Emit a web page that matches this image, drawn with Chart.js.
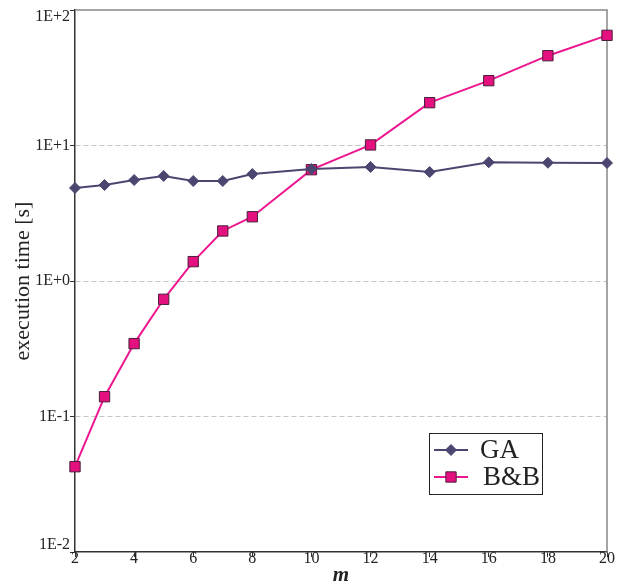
<!DOCTYPE html>
<html lang="en">
<head>
    <meta charset="UTF-8">
    <title>Execution time vs m</title>
    <script src="https://cdn.jsdelivr.net/npm/chart.js@4"></script>
    <style>
        body { margin: 0; background: #fff; }
        canvas { display: block; }
    </style>
</head>
<body>
    <canvas id="timeChart" width="619" height="586"></canvas>
    <script>
        // values
        const mValues = [2, 3, 4, 5, 6, 7, 8, 10, 12, 14, 16, 18, 20];
        const gaTimes = [4.86, 5.11, 5.56, 5.96, 5.47, 5.47, 6.16, 6.71, 6.94, 6.37, 7.52, 7.46, 7.43];
        const bbTimes = [0.0426, 0.140, 0.345, 0.733, 1.39, 2.34, 2.98, 6.63, 10.1, 20.7, 30.1, 46.0, 65.0];
        const yTickValues = [0.01, 0.1, 1, 10, 100];
        const xTickValues = [2, 4, 6, 8, 10, 12, 14, 16, 18, 20];

        const serif = 'Liberation Serif';
        const textColor = '#222';

        function toPoints(ys) {
            return mValues.map((m, i) => ({ x: m, y: ys[i] }));
        }

        function expLabel(v) {
            const e = Math.round(Math.log10(v));
            const txt = '1E' + (e < 0 ? '-' : '+') + Math.abs(e);
            // edge labels sit inside the plot, like the original
            if (v === yTickValues[yTickValues.length - 1]) return [' ', txt];
            if (v === yTickValues[0]) return [txt, ' '];
            return txt;
        }

        function marker(ctx, style, r, x, y) {
            ctx.beginPath();
            if (style === 'rectRot') {
                ctx.moveTo(x - r, y);
                ctx.lineTo(x, y - r);
                ctx.lineTo(x + r, y);
                ctx.lineTo(x, y + r);
                ctx.closePath();
            } else {
                const s = Math.SQRT1_2 * r;
                ctx.rect(x - s, y - s, 2 * s, 2 * s);
            }
            ctx.fill();
            ctx.stroke();
        }

        // box legend inside the plot, lower right
        const boxLegend = {
            id: 'boxLegend',
            afterDraw(chart) {
                const ctx = chart.ctx;
                const area = chart.chartArea;
                const bx = area.right - 178, by = area.bottom - 119;
                const bw = 113, bh = 61;
                ctx.save();
                ctx.fillStyle = '#fff';
                ctx.fillRect(bx, by, bw, bh);
                ctx.strokeStyle = '#222';
                ctx.lineWidth = 1;
                ctx.strokeRect(bx + 0.5, by + 0.5, bw, bh);
                chart.data.datasets.forEach((ds, i) => {
                    const y = by + 17 + i * 27;
                    ctx.strokeStyle = ds.borderColor;
                    ctx.lineWidth = ds.borderWidth;
                    ctx.beginPath();
                    ctx.moveTo(bx + 5, y);
                    ctx.lineTo(bx + 39, y);
                    ctx.stroke();
                    ctx.fillStyle = ds.pointBackgroundColor;
                    ctx.strokeStyle = ds.pointBorderColor;
                    ctx.lineWidth = 1;
                    marker(ctx, ds.pointStyle, ds.pointRadius, bx + 22, y);
                    ctx.fillStyle = textColor;
                    ctx.font = '27px "' + serif + '"';
                    ctx.textBaseline = 'middle';
                    ctx.fillText(ds.label, bx + 51 + i * 3, y + 1);
                });
                ctx.restore();
            }
        };

        // gray frame on top and right
        const frame = {
            id: 'frame',
            beforeDatasetsDraw(chart) {
                const ctx = chart.ctx;
                const a = chart.chartArea;
                ctx.save();
                ctx.strokeStyle = '#888';
                ctx.lineWidth = 1.5;
                ctx.beginPath();
                ctx.moveTo(a.left, a.top);
                ctx.lineTo(a.right, a.top);
                ctx.lineTo(a.right, a.bottom);
                ctx.stroke();
                ctx.restore();
            }
        };

        const ctx = document.getElementById('timeChart').getContext('2d');
        new Chart(ctx, {
            type: 'line',
            data: {
                datasets: [{
                    label: 'GA',
                    data: toPoints(gaTimes),
                    borderColor: '#4b4670',
                    borderWidth: 2,
                    pointStyle: 'rectRot',
                    pointRadius: 5.5,
                    pointBackgroundColor: '#4b4670',
                    pointBorderColor: '#4b4670',
                    pointBorderWidth: 1,
                    tension: 0,
                    clip: false
                }, {
                    label: 'B&B',
                    data: toPoints(bbTimes),
                    borderColor: '#ec168f',
                    borderWidth: 2,
                    pointStyle: 'rect',
                    pointRadius: 7.3,
                    pointBackgroundColor: '#e5107f',
                    pointBorderColor: '#4a1f3a',
                    pointBorderWidth: 1,
                    tension: 0,
                    clip: false
                }]
            },
            options: {
                responsive: false,
                animation: false,
                devicePixelRatio: 1,
                layout: { padding: { left: 8, top: 10, right: 12, bottom: 0 } },
                plugins: {
                    legend: { display: false },
                    tooltip: { enabled: false }
                },
                scales: {
                    x: {
                        type: 'linear',
                        min: 2,
                        max: 20,
                        afterBuildTicks: scale => {
                            scale.ticks = xTickValues.map(v => ({ value: v }));
                        },
                        afterFit: scale => { scale.height = 34; },
                        grid: {
                            drawOnChartArea: false,
                            drawTicks: true,
                            tickLength: 5,
                            tickColor: '#333'
                        },
                        border: { color: '#333', width: 1.5 },
                        ticks: {
                            padding: -8,
                            maxRotation: 0,
                            color: textColor,
                            font: { family: serif, size: 16 }
                        },
                        title: {
                            display: true,
                            text: 'm',
                            color: textColor,
                            padding: { top: 0, bottom: 0 },
                            font: { family: serif, size: 21, style: 'italic', weight: 'bold', lineHeight: 1 }
                        }
                    },
                    y: {
                        type: 'logarithmic',
                        min: 0.01,
                        max: 100,
                        afterBuildTicks: scale => {
                            scale.ticks = yTickValues.map(v => ({ value: v }));
                        },
                        afterFit: scale => {
                            scale.width = 67;
                            scale.paddingTop = 0;
                            scale.paddingBottom = 0;
                        },
                        grid: {
                            color: c => (c.tick && (c.tick.value === 10 || c.tick.value === 1 || c.tick.value === 0.1)) ? '#c4c4c4' : 'rgba(0,0,0,0)',
                            tickBorderDash: [],
                            tickColor: '#333',
                            tickLength: 5,
                            lineWidth: 1
                        },
                        border: { color: '#333', width: 1.5, dash: [5, 3] },
                        ticks: {
                            padding: 0,
                            color: textColor,
                            font: { family: serif, size: 16, lineHeight: 0.85 },
                            callback: v => expLabel(v)
                        },
                        title: {
                            display: true,
                            text: 'execution time [s]',
                            color: textColor,
                            padding: { top: 2, bottom: 4 },
                            font: { family: serif, size: 22 }
                        }
                    }
                }
            },
            plugins: [frame, boxLegend]
        });
    </script>
</body>
</html>
